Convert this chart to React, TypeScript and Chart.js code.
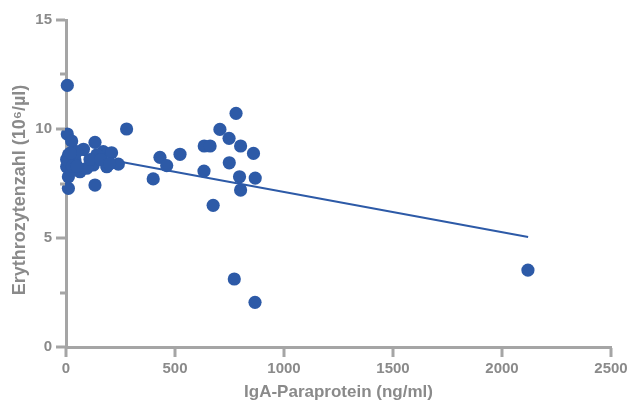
import React, { useEffect, useRef } from "react";
import { Chart, registerables } from "chart.js";

Chart.register(...registerables);

// IgA paraprotein (ng/ml) per patient
const igaValues = [
  6, 6, 26, 133, 278, 80, 11, 171, 209, 240, 187, 141, 125, 3, 64, 95, 11, 11, 133, 41, 49, 26,
  3, 20, 30, 50, 110, 160, 200,
  400, 431, 462, 523, 634, 661, 706, 748, 780, 801, 860, 749, 633, 796, 868, 801, 675, 772, 867,
  2119,
];

// Erythrocyte count (10^6/µl) per patient
const erythrocyteValues = [
  12.0, 9.77, 9.45, 9.39, 10.0, 9.07, 8.81, 8.96, 8.91, 8.39, 8.27, 8.81, 8.35, 8.27, 8.04, 8.2, 7.81, 7.28, 7.43, 8.58, 8.96, 8.12,
  8.6, 8.9, 8.3, 8.3, 8.6, 8.6, 8.4,
  7.71, 8.7, 8.32, 8.84, 9.22, 9.22, 9.98, 9.57, 10.72, 9.22, 8.88, 8.45, 8.07, 7.81, 7.75, 7.2, 6.5, 3.12, 2.05,
  3.53,
];

// Endpoints of the fitted regression line
const trendX = [0, 2120];
const trendY = [8.96, 5.05];

const xTicks = [0, 500, 1000, 1500, 2000, 2500];
const yTicks = [0, 5, 10, 15];
const yMinorTicks = [2.5, 7.5, 12.5];

const yTitle = "Erythrozytenzahl (10\u2076/\u00b5l)";
const xTitle = "IgA-Paraprotein (ng/ml)";

const AXIS_GRAY = "#a5a5a5";
const TEXT_GRAY = "#8a8a8a";
const DOT_BLUE = "#2d5aa7";
const FONT = "'Liberation Sans', Arial, sans-serif";

// Tick marks (major and minor) and the rotated y-axis title
const axisDecorPlugin = {
  id: "axisDecor",
  afterDraw(chart: any) {
    const { ctx, chartArea } = chart;
    const x = chart.scales.x;
    const y = chart.scales.y;
    ctx.save();
    ctx.strokeStyle = AXIS_GRAY;
    ctx.lineWidth = 3;
    ctx.lineCap = "butt";
    const left = chartArea.left;
    const bottom = chartArea.bottom;
    for (const v of yTicks) {
      const py = Math.round(y.getPixelForValue(v));
      ctx.beginPath();
      ctx.moveTo(left - 10, py);
      ctx.lineTo(left - 1, py);
      ctx.stroke();
    }
    for (const v of yMinorTicks) {
      const py = Math.round(y.getPixelForValue(v));
      ctx.beginPath();
      ctx.moveTo(left - 6, py);
      ctx.lineTo(left - 1, py);
      ctx.stroke();
    }
    for (const v of xTicks) {
      const px = Math.round(x.getPixelForValue(v));
      ctx.beginPath();
      ctx.moveTo(px, bottom + 1);
      ctx.lineTo(px, bottom + 10);
      ctx.stroke();
    }
    ctx.translate(20, 190);
    ctx.rotate(-Math.PI / 2);
    ctx.fillStyle = TEXT_GRAY;
    ctx.font = `bold 18px ${FONT}`;
    ctx.textAlign = "center";
    ctx.textBaseline = "middle";
    ctx.fillText(yTitle, 0, 0);
    ctx.restore();
  },
};

export default function App() {
  const ref = useRef<HTMLCanvasElement | null>(null);

  useEffect(() => {
    if (!ref.current) return;
    const points = igaValues.map((x, i) => ({ x, y: erythrocyteValues[i] }));
    const trend = trendX.map((x, i) => ({ x, y: trendY[i] }));

    const chart = new Chart(ref.current, {
      type: "scatter",
      data: {
        datasets: [
          {
            type: "scatter",
            data: points,
            backgroundColor: DOT_BLUE,
            borderColor: DOT_BLUE,
            pointRadius: 6.6,
            borderWidth: 0,
            clip: false,
            order: 0,
          } as any,
          {
            type: "line",
            data: trend,
            borderColor: DOT_BLUE,
            borderWidth: 2,
            pointRadius: 0,
            fill: false,
            clip: false,
            order: 1,
          } as any,
        ],
      },
      options: {
        responsive: false,
        animation: false,
        layout: { padding: { top: 20, right: 18, left: 0, bottom: 0 } },
        plugins: {
          legend: { display: false },
          tooltip: { enabled: false },
        },
        scales: {
          x: {
            type: "linear",
            min: 0,
            max: 2500,
            afterBuildTicks: (scale: any) => {
              scale.ticks = xTicks.map((v) => ({ value: v }));
            },
            afterFit: (scale: any) => {
              scale.height = 56;
              scale.paddingLeft = 0;
              scale.paddingRight = 0;
            },
            border: { color: AXIS_GRAY, width: 3 },
            grid: {
              drawOnChartArea: false,
              drawTicks: true,
              tickLength: 10,
              tickColor: "rgba(0,0,0,0)",
            },
            ticks: {
              color: TEXT_GRAY,
              padding: 3,
              maxRotation: 0,
              autoSkip: false,
              callback: (v: any) => String(v),
              font: { family: FONT, size: 15, weight: "bold" },
            },
            title: {
              display: true,
              text: xTitle,
              color: TEXT_GRAY,
              padding: { top: 1, bottom: 0 },
              font: { family: FONT, size: 17, weight: "bold" },
            },
          },
          y: {
            type: "linear",
            min: 0,
            max: 15,
            afterBuildTicks: (scale: any) => {
              scale.ticks = yTicks.map((v) => ({ value: v }));
            },
            afterFit: (scale: any) => {
              scale.width = 66;
              scale.paddingTop = 0;
              scale.paddingBottom = 0;
            },
            border: { color: AXIS_GRAY, width: 3 },
            grid: {
              drawOnChartArea: false,
              drawTicks: true,
              tickLength: 10,
              tickColor: "rgba(0,0,0,0)",
            },
            ticks: {
              color: TEXT_GRAY,
              padding: 4,
              callback: (v: any) => String(v),
              font: { family: FONT, size: 15, weight: "bold" },
            },
            title: { display: false },
          },
        },
      },
      plugins: [axisDecorPlugin],
    });

    return () => chart.destroy();
  }, []);

  return (
    <div style={{ position: "absolute", left: 0, top: 0, width: 629, height: 403, background: "#fff" }}>
      <canvas ref={ref} width={629} height={403} style={{ display: "block" }} />
    </div>
  );
}
